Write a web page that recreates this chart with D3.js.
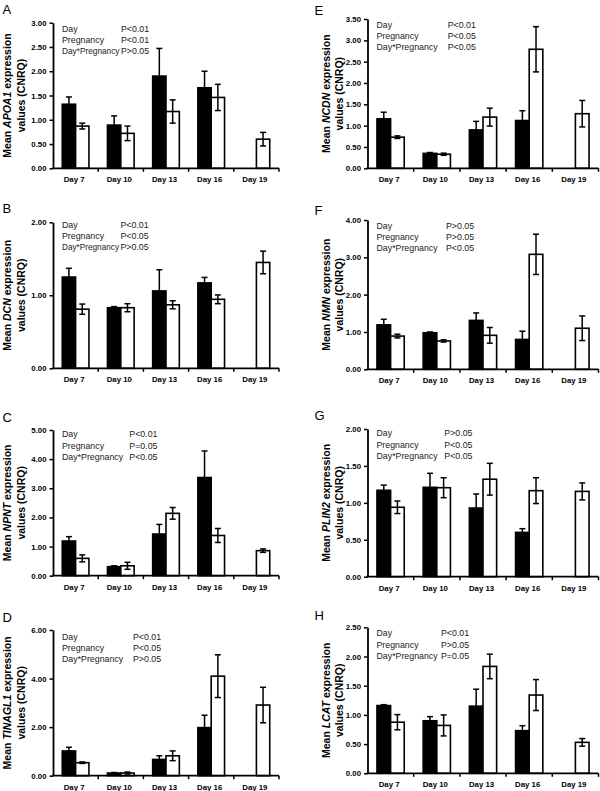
<!DOCTYPE html>
<html>
<head>
<meta charset="utf-8">
<script src="https://cdn.jsdelivr.net/npm/d3@7/dist/d3.min.js"></script>
<style>
  html, body { margin: 0; padding: 0; background: #fff; }
  svg { display: block; }
  text { font-family: "Liberation Sans", Arial, Helvetica, sans-serif; }
</style>
</head>
<body>
<svg id="chart" width="600" height="791"></svg>
<script>
// ---------------- DATA ----------------
const days = ["Day 7", "Day 10", "Day 13", "Day 16", "Day 19"];
const statRows = ["Day", "Pregnancy", "Day*Pregnancy"];

// A: APOA1
const apoa1Black = [1.32, 0.89, 1.90, 1.66, null];
const apoa1BlackErr = [0.15, 0.19, 0.57, 0.34, null];
const apoa1White = [0.87, 0.72, 1.17, 1.46, 0.60];
const apoa1WhiteErr = [0.06, 0.15, 0.24, 0.27, 0.14];
const apoa1Ticks = [0, 0.5, 1.0, 1.5, 2.0, 2.5, 3.0];
const apoa1Stats = ["P<0.01", "P<0.01", "P>0.05"];

// B: DCN
const dcnBlack = [1.25, 0.83, 1.06, 1.17, null];
const dcnBlackErr = [0.12, 0.015, 0.29, 0.075, null];
const dcnWhite = [0.81, 0.83, 0.87, 0.945, 1.45];
const dcnWhiteErr = [0.07, 0.055, 0.055, 0.06, 0.155];
const dcnTicks = [0, 1.0, 2.0];
const dcnStats = ["P<0.01", "P<0.05", "P>0.05"];

// C: NPNT
const npntBlack = [1.19, 0.31, 1.43, 3.37, null];
const npntBlackErr = [0.15, 0.03, 0.33, 0.91, null];
const npntWhite = [0.595, 0.34, 2.14, 1.38, 0.86];
const npntWhiteErr = [0.12, 0.12, 0.20, 0.24, 0.06];
const npntTicks = [0, 1, 2, 3, 4, 5];
const npntStats = ["P<0.01", "P=0.05", "P<0.05"];

// D: TINAGL1
const tinagl1Black = [1.02, 0.11, 0.67, 1.98, null];
const tinagl1BlackErr = [0.15, 0.02, 0.15, 0.51, null];
const tinagl1White = [0.535, 0.11, 0.82, 4.10, 2.91];
const tinagl1WhiteErr = [0.03, 0.04, 0.20, 0.88, 0.73];
const tinagl1Ticks = [0, 2, 4, 6];
const tinagl1Stats = ["P<0.01", "P<0.05", "P>0.05"];

// E: NCDN
const ncdnBlack = [1.16, 0.35, 0.90, 1.12, null];
const ncdnBlackErr = [0.155, 0.02, 0.20, 0.23, null];
const ncdnWhite = [0.73, 0.33, 1.20, 2.79, 1.28];
const ncdnWhiteErr = [0.03, 0.025, 0.21, 0.53, 0.31];
const ncdnTicks = [0, 0.5, 1.0, 1.5, 2.0, 2.5, 3.0, 3.5];
const ncdnStats = ["P<0.01", "P<0.05", "P<0.05"];

// F: NMN
const nmnBlack = [1.19, 0.98, 1.31, 0.80, null];
const nmnBlackErr = [0.15, 0.02, 0.20, 0.22, null];
const nmnWhite = [0.89, 0.76, 0.91, 3.08, 1.10];
const nmnWhiteErr = [0.05, 0.03, 0.21, 0.54, 0.33];
const nmnTicks = [0, 1, 2, 3, 4];
const nmnStats = ["P>0.05", "P>0.05", "P<0.05"];

// G: PLIN2
const plin2Black = [1.17, 1.21, 0.93, 0.60, null];
const plin2BlackErr = [0.07, 0.19, 0.19, 0.05, null];
const plin2White = [0.94, 1.205, 1.32, 1.165, 1.155];
const plin2WhiteErr = [0.085, 0.135, 0.215, 0.175, 0.115];
const plin2Ticks = [0, 0.5, 1.0, 1.5, 2.0];
const plin2Stats = ["P>0.05", "P<0.05", "P<0.05"];

// H: LCAT
const lcatBlack = [1.16, 0.90, 1.15, 0.73, null];
const lcatBlackErr = [0.015, 0.07, 0.29, 0.085, null];
const lcatWhite = [0.875, 0.82, 1.83, 1.34, 0.53];
const lcatWhiteErr = [0.13, 0.18, 0.21, 0.265, 0.065];
const lcatTicks = [0, 0.5, 1.0, 1.5, 2.0, 2.5];
const lcatStats = ["P<0.01", "P>0.05", "P=0.05"];

// ---------------- LAYOUT ----------------
const panels = [
  { letter: "A", gene: "APOA1", black: apoa1Black, blackErr: apoa1BlackErr, white: apoa1White, whiteErr: apoa1WhiteErr, ticks: apoa1Ticks, stats: apoa1Stats,
    col: 0, yTop: 22.7, yBot: 168.3, letterY: 13.5, statY: 28.5, pX: 121, squeeze: true },
  { letter: "B", gene: "DCN", black: dcnBlack, blackErr: dcnBlackErr, white: dcnWhite, whiteErr: dcnWhiteErr, ticks: dcnTicks, stats: dcnStats,
    col: 0, yTop: 222.3, yBot: 368.3, letterY: 212.5, statY: 225, pX: 120.5, squeeze: true },
  { letter: "C", gene: "NPNT", black: npntBlack, blackErr: npntBlackErr, white: npntWhite, whiteErr: npntWhiteErr, ticks: npntTicks, stats: npntStats,
    col: 0, yTop: 430, yBot: 575.7, letterY: 421.5, statY: 434.3, pX: 129.3 },
  { letter: "D", gene: "TINAGL1", black: tinagl1Black, blackErr: tinagl1BlackErr, white: tinagl1White, whiteErr: tinagl1WhiteErr, ticks: tinagl1Ticks, stats: tinagl1Stats,
    col: 0, yTop: 630, yBot: 775.7, letterY: 621.5, statY: 636.7, pX: 133 },
  { letter: "E", gene: "NCDN", black: ncdnBlack, blackErr: ncdnBlackErr, white: ncdnWhite, whiteErr: ncdnWhiteErr, ticks: ncdnTicks, stats: ncdnStats,
    col: 1, yTop: 19, yBot: 168.3, letterY: 14.5, statY: 25, pX: 447.7 },
  { letter: "F", gene: "NMN", black: nmnBlack, blackErr: nmnBlackErr, white: nmnWhite, whiteErr: nmnWhiteErr, ticks: nmnTicks, stats: nmnStats,
    col: 1, yTop: 220, yBot: 369.3, letterY: 214.5, statY: 226, pX: 446 },
  { letter: "G", gene: "PLIN2", black: plin2Black, blackErr: plin2BlackErr, white: plin2White, whiteErr: plin2WhiteErr, ticks: plin2Ticks, stats: plin2Stats,
    col: 1, yTop: 429, yBot: 576.7, letterY: 419.5, statY: 433.3, pX: 444.3 },
  { letter: "H", gene: "LCAT", black: lcatBlack, blackErr: lcatBlackErr, white: lcatWhite, whiteErr: lcatWhiteErr, ticks: lcatTicks, stats: lcatStats,
    col: 1, yTop: 627.3, yBot: 773.3, letterY: 619.5, statY: 633.3, pX: 441 }
];

const cols = [
  { x0: 53, x1: 279, letterX: 2.5, dayX: 62, lab1: 10.8, lab2: 24.8 },
  { x0: 367.5, x1: 598.5, letterX: 314.5, dayX: 376.5, lab1: 329.8, lab2: 343.3 }
];

const svg = d3.select("#chart");

panels.forEach(p => {
  const c = cols[p.col];
  const g = svg.append("g");
  const yMax = p.ticks[p.ticks.length - 1];

  const x0 = d3.scaleBand().domain(days).range([c.x0, c.x1]).padding(0);
  const x1 = d3.scaleBand().domain(["black", "white"])
    .range([x0.bandwidth() * 0.205, x0.bandwidth() * 0.795]).padding(0);
  const y = d3.scaleLinear().domain([0, yMax]).range([p.yBot, p.yTop]);

  // bars
  const series = [
    { key: "black", vals: p.black, errs: p.blackErr, fill: "#000" },
    { key: "white", vals: p.white, errs: p.whiteErr, fill: "#fff" }
  ];
  series.forEach(s => {
    const data = days.map((d, i) => ({ day: d, v: s.vals[i], e: s.errs[i] })).filter(d => d.v != null);
    g.selectAll(null).data(data).enter().append("rect")
      .attr("x", d => x0(d.day) + x1(s.key))
      .attr("y", d => y(d.v))
      .attr("width", x1.bandwidth())
      .attr("height", d => y(0) - y(d.v))
      .attr("fill", s.fill)
      .attr("stroke", "#000")
      .attr("stroke-width", 1.6);
    // error bars
    const eb = g.selectAll(null).data(data).enter().append("g")
      .attr("stroke", "#000").attr("stroke-width", 1.5);
    const cx = d => x0(d.day) + x1(s.key) + x1.bandwidth() / 2;
    eb.append("line")
      .attr("x1", cx).attr("x2", cx)
      .attr("y1", d => y(d.v - d.e)).attr("y2", d => y(d.v + d.e));
    eb.append("line")
      .attr("x1", d => cx(d) - 3).attr("x2", d => cx(d) + 3)
      .attr("y1", d => y(d.v + d.e)).attr("y2", d => y(d.v + d.e));
    eb.append("line")
      .attr("x1", d => cx(d) - 3).attr("x2", d => cx(d) + 3)
      .attr("y1", d => y(d.v - d.e)).attr("y2", d => y(d.v - d.e));
  });

  // y axis
  const yAxis = d3.axisLeft(y).tickValues(p.ticks).tickFormat(d3.format(".2f"))
    .tickSize(3.5).tickSizeOuter(0).tickPadding(3);
  const ya = g.append("g").attr("transform", `translate(${c.x0},0)`).call(yAxis);
  ya.select(".domain").attr("stroke-width", 1.8);
  ya.selectAll(".tick line").attr("stroke-width", 1.5);
  ya.selectAll(".tick text").attr("font-size", 7.8).attr("font-weight", "bold")
    .attr("font-family", "'Liberation Sans', Arial, sans-serif").attr("fill", "#000");

  // x axis
  const xa = g.append("g").attr("transform", `translate(0,${p.yBot})`);
  xa.append("line").attr("x1", c.x0 - 1).attr("x2", c.x1)
    .attr("y1", 0).attr("y2", 0).attr("stroke", "#000").attr("stroke-width", 1.8);
  const bounds = days.map(d => x0(d)).concat([x0(days[days.length - 1]) + x0.bandwidth()]).slice(1);
  xa.selectAll(null).data(bounds).enter().append("line")
    .attr("x1", d => d).attr("x2", d => d).attr("y1", 0).attr("y2", 3.5)
    .attr("stroke", "#000").attr("stroke-width", 1.5);
  xa.selectAll(null).data(days).enter().append("text")
    .attr("x", d => x0(d) + x0.bandwidth() / 2 - 1.5)
    .attr("y", 14)
    .attr("text-anchor", "middle")
    .attr("font-size", 7.8).attr("font-weight", "bold")
    .text(d => d);

  // y label (two lines)
  const cy = (p.yTop + p.yBot) / 2;
  const l1 = g.append("text")
    .attr("transform", `translate(${c.lab1},${cy}) rotate(-90)`)
    .attr("text-anchor", "middle").attr("font-size", 10.5).attr("font-weight", "bold");
  l1.append("tspan").text("Mean ");
  l1.append("tspan").attr("font-style", "italic").text(p.gene);
  l1.append("tspan").text(" expression");
  g.append("text")
    .attr("transform", `translate(${c.lab2},${cy}) rotate(-90)`)
    .attr("text-anchor", "middle").attr("font-size", 10.5).attr("font-weight", "bold")
    .text("values (CNRQ)");

  // panel letter
  g.append("text").attr("x", c.letterX).attr("y", p.letterY)
    .attr("font-family", "'Liberation Serif', 'Times New Roman', serif")
    .attr("font-size", 13).text(p.letter);

  // stats legend
  statRows.forEach((r, i) => {
    const t = g.append("text").attr("x", c.dayX).attr("y", p.statY + 3 + i * 11.2)
      .attr("font-size", 8.8).attr("fill", "#222").text(r);
    if (p.squeeze && i === 2) {
      t.attr("textLength", p.pX - c.dayX - 1.5).attr("lengthAdjust", "spacingAndGlyphs");
    }
    g.append("text").attr("x", p.pX).attr("y", p.statY + 3 + i * 11.2)
      .attr("font-size", 8.8).attr("fill", "#222").text(p.stats[i]);
  });
});
</script>
</body>
</html>
